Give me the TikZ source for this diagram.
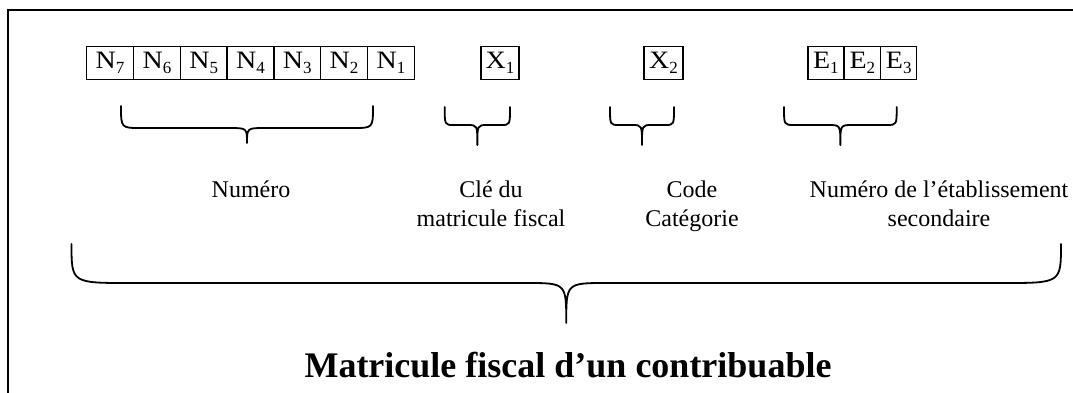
\documentclass[tikz,border=0pt]{standalone}
\usepackage{fontspec}
\setmainfont{Liberation Serif}
\newcommand\sbx[2]{\scalebox{1.12}[1]{#1}\raisebox{-0.2em}{\fontsize{17}{17}\selectfont #2}}
\newcommand\drawbrace[7]{%
  \draw[brc] (#1,#3) .. controls (#1,#4) .. ({#1+#6},#4)
    -- ({(#1+#2)/2-#7},#4) .. controls ({(#1+#2)/2},#4) .. ({(#1+#2)/2},#5)
    .. controls ({(#1+#2)/2},#4) .. ({(#1+#2)/2+#7},#4)
    -- ({#2-#6},#4) .. controls (#2,#4) .. (#2,#3);}
\begin{document}
\begin{tikzpicture}[x=1pt,y=-1pt,
  cell/.style={draw, line width=1.5pt, minimum height=32.6pt, inner sep=0pt,
    font=\fontsize{25}{28}\selectfont},
  lbl/.style={font=\fontsize{24}{29}\selectfont, anchor=base},
  ttl/.style={font=\bfseries\fontsize{36}{40}\selectfont, anchor=base},
  brc/.style={line width=1.8pt, line cap=round, line join=round},
  frame/.style={line width=2.2pt}]
\useasboundingbox (0,0) rectangle (1073,392);
\clip (0,0) rectangle (1073,392);
\draw[frame] (8,420) -- (8,10) -- (1100,10);
% cells
\node[cell, minimum width=46.8pt] (n7) at (110.1,63) {\sbx{N}{7}};
\node[cell, minimum width=46.8pt] (n6) at (156.9,63) {\sbx{N}{6}};
\node[cell, minimum width=46.8pt] (n5) at (203.7,63) {\sbx{N}{5}};
\node[cell, minimum width=46.8pt] (n4) at (250.5,63) {\sbx{N}{4}};
\node[cell, minimum width=46.8pt] (n3) at (297.3,63) {\sbx{N}{3}};
\node[cell, minimum width=46.8pt] (n2) at (344.1,63) {\sbx{N}{2}};
\node[cell, minimum width=46.8pt] (n1) at (390.9,63) {\sbx{N}{1}};
\node[cell, minimum width=38.3pt] (x1) at (499.9,63) {\sbx{X}{1}};
\node[cell, minimum width=39pt] (x2) at (663.5,63) {\sbx{X}{2}};
\node[cell, minimum width=36.3pt] (e1) at (825.9,63) {\sbx{E}{1}};
\node[cell, minimum width=36.5pt] (e2) at (862.3,63) {\sbx{E}{2}};
\node[cell, minimum width=36pt] (e3) at (898.7,63) {\sbx{E}{3}};
% braces
\drawbrace{121}{373}{106}{128}{143}{20}{18}
\drawbrace{444.7}{510}{107}{125}{145}{9}{10}
\drawbrace{610}{674}{107}{125}{145}{9}{10}
\drawbrace{784}{896.7}{107}{125}{145}{10}{12}
\drawbrace{71.5}{1061}{244}{283}{323}{58}{40}
% labels
\node[lbl] (lnum) at (251,197) {Numéro};
\node[lbl] (lcle1) at (491,197) {Clé du};
\node[lbl] (lcle2) at (491,226) {matricule fiscal};
\node[lbl] (lcode1) at (692,197) {Code};
\node[lbl] (lcode2) at (692,226) {Catégorie};
\node[lbl] (letab1) at (939,197) {Numéro de l’établissement};
\node[lbl] (letab2) at (939,226) {secondaire};
\node[ttl] (title) at (568,377) {Matricule fiscal d’un contribuable};
\end{tikzpicture}
\end{document}
